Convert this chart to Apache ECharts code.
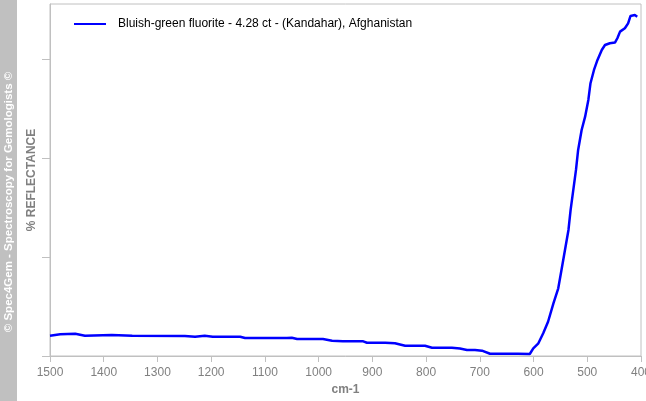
<!DOCTYPE html>
<html>
<head>
<meta charset="utf-8">
<script src="https://cdn.jsdelivr.net/npm/echarts@6/dist/echarts.min.js"></script>
<style>
html,body{margin:0;padding:0;background:#fff;}
#chart{width:646px;height:401px;}
</style>
</head>
<body>
<div id="chart"></div>
<script>
const seriesName = 'Bluish-green fluorite - 4.28 ct - (Kandahar), Afghanistan';
const xTicks = [1500, 1400, 1300, 1200, 1100, 1000, 900, 800, 700, 600, 500, 400];
const wavenumbers = [1500, 1481, 1453, 1435, 1385, 1347, 1249, 1230, 1212, 1197, 1146, 1137, 1059, 1050, 1040, 992, 975, 955, 917, 910, 876, 858, 839, 802, 789, 770, 752, 737, 724, 709, 696, 681, 629, 607, 600.5, 591, 582, 573, 563, 554, 548, 541.5, 535, 531, 526, 521, 517, 510.5, 504, 498, 494, 487.5, 481, 473, 467, 458, 448.5, 444, 439, 430, 424, 419.5, 411.5, 407];
const reflectance = [2.05, 2.19, 2.25, 2.05, 2.12, 2.05, 2.02, 1.95, 2.05, 1.95, 1.95, 1.82, 1.82, 1.85, 1.72, 1.72, 1.55, 1.48, 1.48, 1.34, 1.34, 1.28, 1.04, 1.04, 0.84, 0.84, 0.84, 0.76, 0.61, 0.61, 0.54, 0.23, 0.23, 0.20, 0.78, 1.28, 2.29, 3.46, 5.32, 6.84, 8.69, 10.71, 12.73, 14.75, 16.77, 18.79, 20.81, 22.83, 24.17, 25.86, 27.55, 28.89, 29.9, 30.91, 31.41, 31.59, 31.65, 32.09, 32.76, 33.1, 33.6, 34.34, 34.44, 34.27];
const yTicks = [0, 10, 20, 30];

const chart = echarts.init(document.getElementById('chart'), null, {renderer: 'canvas'});
const data = wavenumbers.map((w, i) => [w, reflectance[i]]);
const font = '"Liberation Sans", Arial, sans-serif';

chart.setOption({
  animation: false,
  backgroundColor: '#ffffff',
  textStyle: {fontFamily: font},
  grid: {left: 50, right: 5, top: 4, bottom: 45, show: true, borderColor: '#c0c0c0', borderWidth: 1,
    backgroundColor: 'transparent', containLabel: false, outerBoundsMode: 'none'},
  legend: {
    left: 74, top: 18, padding: 0, icon: 'rect', itemWidth: 32, itemHeight: 2,
    data: [seriesName],
    textStyle: {color: '#000', fontSize: 12, fontFamily: font, padding: [0, 0, 0, 7]}
  },
  xAxis: {
    type: 'value', min: 400, max: 1500, interval: 100, inverse: true,
    name: 'cm-1', nameLocation: 'middle', nameGap: 28,
    nameTextStyle: {color: '#808080', fontWeight: 'bold', fontSize: 12, fontFamily: font},
    axisLine: {show: true, lineStyle: {color: '#c0c0c0', width: 1}},
    axisTick: {show: true, length: 6, lineStyle: {color: '#c0c0c0'}},
    axisLabel: {color: '#808080', fontSize: 12, margin: 11, fontFamily: font,
      customValues: xTicks, formatter: v => String(v)},
    splitLine: {show: false}
  },
  yAxis: {
    type: 'value', min: 0, max: 35.55,
    name: '% REFLECTANCE', nameLocation: 'middle', nameGap: 12,
    nameTextStyle: {color: '#808080', fontWeight: 'bold', fontSize: 12, fontFamily: font},
    axisLine: {show: true, lineStyle: {color: '#c0c0c0', width: 1}},
    axisTick: {show: true, length: 8, lineStyle: {color: '#c0c0c0'}, customValues: yTicks},
    axisLabel: {show: false},
    splitLine: {show: false}
  },
  series: [{
    name: seriesName, type: 'line', data: data, symbol: 'none', showSymbol: false,
    lineStyle: {color: '#0000ff', width: 2.5}, itemStyle: {color: '#0000ff'}
  }],
  graphic: [
    {type: 'rect', left: 0, top: 0, shape: {x: 0, y: 0, width: 17, height: 401}, style: {fill: '#c0c0c0'}, z: 0},
    {type: 'text', x: 9, y: 202, rotation: Math.PI / 2,
      style: {text: '© Spec4Gem - Spectroscopy for Gemologists ©', fill: '#ffffff', font: 'bold 11.5px "Liberation Sans", Arial, sans-serif', align: 'center', verticalAlign: 'middle'}, z: 10}
  ]
});
</script>
</body>
</html>
